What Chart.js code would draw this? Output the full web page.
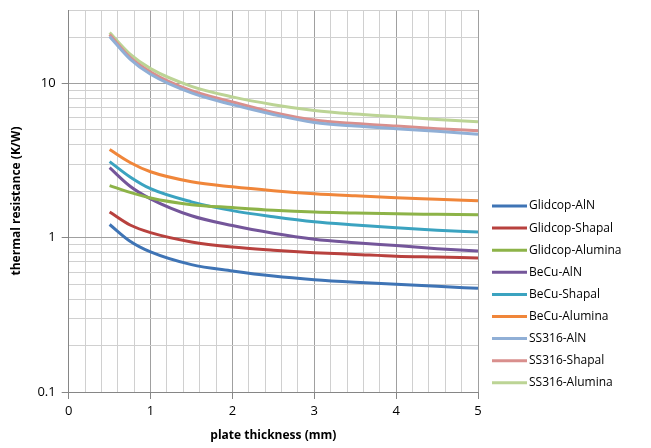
<!DOCTYPE html>
<html>
<head>
<style>body{margin:0;background:#fff}</style>
<script src="https://cdn.jsdelivr.net/npm/chart.js@4"></script>
</head>
<body>
<canvas id="thermalCanvas" width="651" height="448"></canvas>
<script>
  // plate thickness (mm)
  var thickness = [0.5, 0.75, 1, 1.5, 2, 2.5, 3, 3.5, 4, 4.5, 5];

  var glidcopAlN     = [1.22, 0.95, 0.81, 0.67, 0.61, 0.565, 0.535, 0.515, 0.50, 0.485, 0.47];
  var glidcopShapal  = [1.47, 1.21, 1.08, 0.94, 0.87, 0.83, 0.80, 0.78, 0.76, 0.75, 0.74];
  var glidcopAlumina = [2.18, 1.97, 1.81, 1.64, 1.57, 1.51, 1.47, 1.45, 1.43, 1.42, 1.41];
  var becuAlN        = [2.85, 2.16, 1.79, 1.39, 1.20, 1.07, 0.98, 0.93, 0.89, 0.85, 0.82];
  var becuShapal     = [3.12, 2.48, 2.08, 1.71, 1.50, 1.37, 1.27, 1.21, 1.16, 1.12, 1.09];
  var becuAlumina    = [3.74, 3.08, 2.68, 2.31, 2.14, 2.02, 1.93, 1.87, 1.82, 1.78, 1.74];
  var ss316AlN       = [20.2, 14.4, 11.5, 8.7, 7.3, 6.3, 5.6, 5.3, 5.1, 4.9, 4.7];
  var ss316Shapal    = [20.8, 14.8, 11.9, 9.0, 7.6, 6.5, 5.8, 5.5, 5.3, 5.1, 4.95];
  var ss316Alumina   = [21.4, 15.5, 12.5, 9.6, 8.2, 7.3, 6.7, 6.35, 6.1, 5.85, 5.66];

  var seriesNames = ["Glidcop-AlN", "Glidcop-Shapal", "Glidcop-Alumina",
                     "BeCu-AlN", "BeCu-Shapal", "BeCu-Alumina",
                     "SS316-AlN", "SS316-Shapal", "SS316-Alumina"];
  var seriesValues = [glidcopAlN, glidcopShapal, glidcopAlumina,
                      becuAlN, becuShapal, becuAlumina,
                      ss316AlN, ss316Shapal, ss316Alumina];
  var seriesColors = ['#3f74b5', '#b8413e', '#8db348',
                      '#74569a', '#3ba3c0', '#f0863a',
                      '#90afd6', '#d98f8d', '#bcd495'];

  var yTicks = [0.1, 0.2, 0.3, 0.4, 0.5, 0.6, 0.7, 0.8, 0.9,
                1, 2, 3, 4, 5, 6, 7, 8, 9, 10, 20, 30];
  var yLabels = [0.1, 1, 10];

  function isInt(v) { return Math.abs(v - Math.round(v)) < 1e-6; }
  function isDecade(v) { return yLabels.some(function (l) { return Math.abs(l - v) < 1e-9; }); }

  var datasets = seriesNames.map(function (name, i) {
    return {
      label: name,
      data: thickness.map(function (x, j) { return {x: x, y: seriesValues[i][j]}; }),
      borderColor: seriesColors[i],
      backgroundColor: seriesColors[i],
      borderWidth: 3,
      pointRadius: 0,
      cubicInterpolationMode: 'monotone',
      fill: false
    };
  });

  // legend drawn at the right side, like the Excel original
  var sideLegend = {
    id: 'sideLegend',
    afterDraw: function (chart) {
      var c = chart.ctx;
      c.save();
      c.font = '12px "Open Sans", sans-serif';
      c.textBaseline = 'middle';
      chart.data.datasets.forEach(function (ds, i) {
        var y = 206 + i * 22.1;
        c.strokeStyle = ds.borderColor;
        c.lineWidth = 3;
        c.beginPath();
        c.moveTo(492, y);
        c.lineTo(527, y);
        c.stroke();
        c.fillStyle = '#000';
        c.fillText(ds.label, 529, y);
      });
      c.restore();
    }
  };

  var ctx = document.getElementById('thermalCanvas').getContext('2d');
  var chart = new Chart(ctx, {
    type: 'line',
    data: {datasets: datasets},
    plugins: [sideLegend],
    options: {
      responsive: false,
      animation: false,
      layout: {padding: {left: 9, right: 173, top: 10, bottom: 5}},
      plugins: {legend: {display: false}, tooltip: {enabled: false}},
      scales: {
        x: {
          type: 'linear',
          min: 0,
          max: 5,
          ticks: {
            stepSize: 0.2,
            autoSkip: false,
            maxRotation: 0,
            color: '#000',
            font: {size: 13, family: '"Open Sans", sans-serif'},
            padding: 4,
            callback: function (v) { return isInt(v) ? Math.round(v) : ''; }
          },
          grid: {
            color: function (c) { return isInt(c.tick.value) ? '#a0a0a0' : '#d0d0d0'; },
            tickColor: function (c) { return isInt(c.tick.value) ? '#868686' : 'rgba(0,0,0,0)'; },
            tickLength: 7,
            lineWidth: 1
          },
          border: {color: '#868686'},
          title: {
            display: true,
            text: 'plate thickness (mm)',
            color: '#000',
            font: {size: 12, weight: 'bold', family: '"Open Sans", sans-serif'},
            padding: {top: 6, bottom: 0}
          }
        },
        y: {
          type: 'logarithmic',
          min: 0.1,
          max: 30,
          afterBuildTicks: function (axis) {
            axis.ticks = yTicks.map(function (v) { return {value: v}; });
          },
          ticks: {
            autoSkip: false,
            color: '#000',
            font: function (c) {
              var big = !c.tick || isDecade(c.tick.value);
              return {size: big ? 13 : 4, family: '"Open Sans", sans-serif'};
            },
            padding: 6,
            callback: function (v) { return isDecade(v) ? String(v) : ''; }
          },
          grid: {
            color: function (c) { return isDecade(c.tick.value) ? '#a0a0a0' : '#d0d0d0'; },
            tickColor: function (c) { return isDecade(c.tick.value) ? '#868686' : 'rgba(0,0,0,0)'; },
            tickLength: 7,
            lineWidth: 1
          },
          border: {color: '#868686'},
          title: {
            display: true,
            text: 'thermal resistance (K/W)',
            color: '#000',
            font: {size: 12, weight: 'bold', family: '"Open Sans", sans-serif'},
            padding: {top: 0, bottom: 8}
          }
        }
      }
    }
  });
</script>
</body>
</html>
